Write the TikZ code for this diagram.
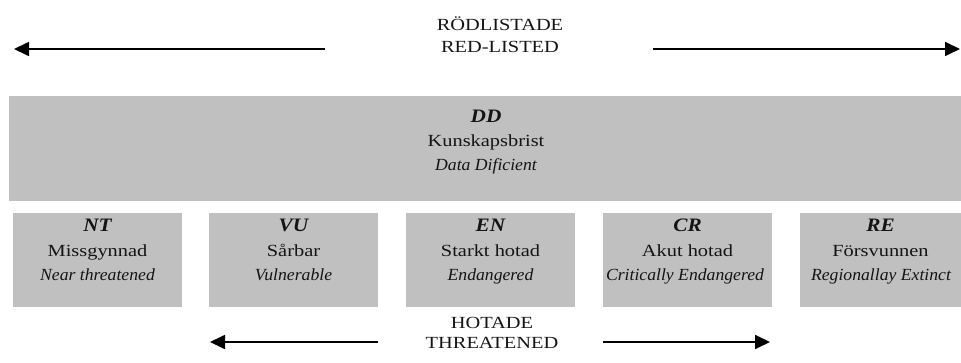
\documentclass[tikz,border=0pt]{standalone}
\usepackage{fontspec}
\setmainfont{Liberation Serif}
\newfontfamily\widefont[FakeStretch=1.2]{Liberation Serif}
\newfontfamily\itfont[FakeStretch=1.04]{Liberation Serif}
\newfontfamily\codefont[FakeStretch=1.12]{Liberation Serif}
\usetikzlibrary{arrows.meta}
\definecolor{boxgray}{RGB}{192,192,192}
\definecolor{ink}{RGB}{20,20,20}
\tikzset{
  catbox/.style={fill=boxgray, draw=none, inner sep=0pt, outer sep=0pt, minimum height=94pt, minimum width=169pt},
  bigbox/.style={fill=boxgray, draw=none, inner sep=0pt, outer sep=0pt, minimum height=105pt, minimum width=952pt},
  txt/.style={anchor=base, inner sep=0pt, outer sep=0pt, text=ink, font=\fontsize{17}{20}\selectfont},
  code/.style={txt, font=\fontsize{19}{22}\selectfont\codefont\bfseries\itshape},
  sw/.style={txt, font=\fontsize{17}{20}\selectfont\widefont},
  en/.style={txt, font=\fontsize{17}{20}\selectfont\itfont\itshape},
  arr/.style={line width=1.7pt, draw=black, -{Triangle[length=15pt,width=14pt]}}
}
\begin{document}
\begin{tikzpicture}[x=1pt,y=-1pt]
\useasboundingbox (0,0) rectangle (961,363);
% header
\node[sw] (rl1) at (500,31) {RÖDLISTADE};
\node[sw] (rl2) at (500,53) {RED-LISTED};
\coordinate (tl0) at (325,49);
\coordinate (tl1) at (14,49);
\coordinate (tr0) at (653,49);
\coordinate (tr1) at (960,49);
\draw[arr] (tl0) -- (tl1);
\draw[arr] (tr0) -- (tr1);
% DD box
\node[bigbox] (dd) at (485,148.5) {};
\node[code] (dd1) at (486,123) {DD};
\node[sw] (dd2) at (486,147) {Kunskapsbrist};
\node[en] (dd3) at (486,171) {Data Dificient};
% category boxes
\node[catbox] (nt) at (97.5,260) {};
\node[catbox] (vu) at (293.5,260) {};
\node[catbox] (enb) at (490.5,260) {};
\node[catbox] (cr) at (687.5,260) {};
\node[catbox, minimum width=161pt] (re) at (880.5,260) {};
\node[code] (nt1) at (97.5,232) {NT};
\node[sw] (nt2) at (97.5,257) {Missgynnad};
\node[en] (nt3) at (97.5,281) {Near threatened};
\node[code] (vu1) at (293.5,232) {VU};
\node[sw] (vu2) at (293.5,257) {Sårbar};
\node[en] (vu3) at (293.5,281) {Vulnerable};
\node[code] (en1) at (490.5,232) {EN};
\node[sw] (en2) at (490.5,257) {Starkt hotad};
\node[en] (en3) at (490.5,281) {Endangered};
\node[code] (cr1) at (687.5,232) {CR};
\node[sw] (cr2) at (687.5,257) {Akut hotad};
\node[en] (cr3) at (685,281) {Critically Endangered};
\node[code] (re1) at (880.5,232) {RE};
\node[sw] (re2) at (880.5,257) {Försvunnen};
\node[en] (re3) at (881,281) {Regionallay Extinct};
% footer
\node[sw] (ht1) at (492,328) {HOTADE};
\node[sw] (ht2) at (492,348) {THREATENED};
\coordinate (bl0) at (378,342);
\coordinate (bl1) at (210,342);
\coordinate (br0) at (603,342);
\coordinate (br1) at (770,342);
\draw[arr] (bl0) -- (bl1);
\draw[arr] (br0) -- (br1);
\end{tikzpicture}
\end{document}
